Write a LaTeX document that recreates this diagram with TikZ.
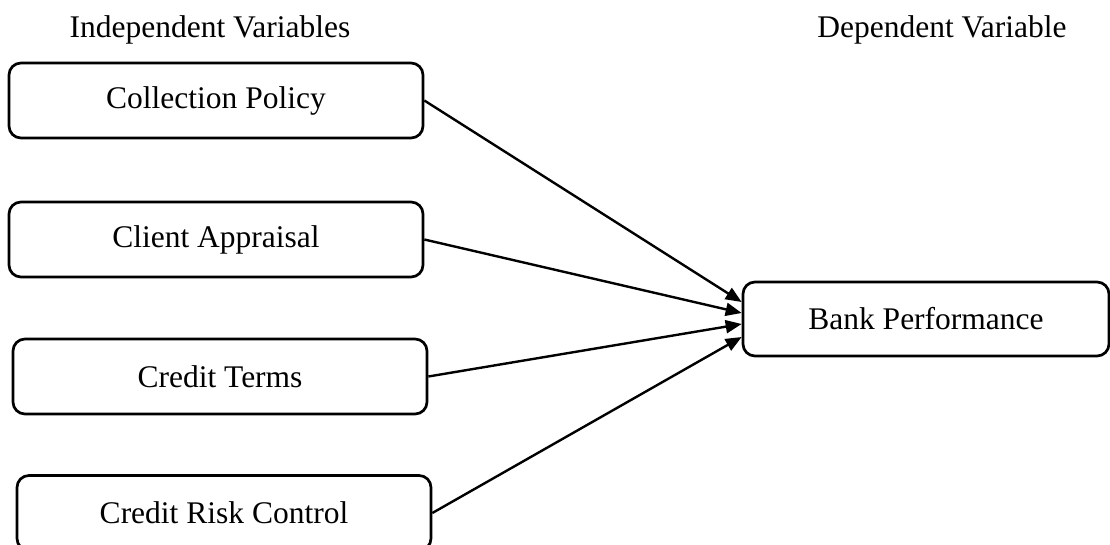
\documentclass[tikz,border=0pt]{standalone}
\usepackage{fontspec}
\setmainfont{Liberation Serif}
\usetikzlibrary{arrows.meta,calc}
\begin{document}
\begin{tikzpicture}[x=1pt,y=-1pt,
  var/.style={draw=black,line width=2.7pt,rounded corners=12pt,minimum width=414pt,minimum height=75pt,inner sep=0pt,font=\fontsize{31.5}{38}\selectfont},
  dep/.style={var,minimum width=366pt,minimum height=74pt},
  ttl/.style={anchor=base,inner sep=0pt,font=\fontsize{31.5}{38}\selectfont},
  conn/.style={line width=2.4pt,-{Triangle[length=16pt,width=13pt]}}]
\useasboundingbox (0,0) rectangle (1110,544);
\node[ttl] (t1) at (210,37) {Independent Variables};
\node[ttl] (t2) at (942,37) {Dependent Variable};
\node[var] (cp) at (216,100.5) {Collection Policy};
\node[var] (ca) at (216,239.5) {Client Appraisal};
\node[var] (ct) at (220,376.5) {Credit Terms};
\node[var] (crc) at (224,513) {Credit Risk Control};
\node[dep] (bp) at (926,319) {Bank Performance};
\coordinate (e1) at ($(bp.west)+(0,-17)$);
\coordinate (e2) at ($(bp.west)+(0,-6)$);
\coordinate (e3) at ($(bp.west)+(0,5)$);
\coordinate (e4) at ($(bp.west)+(0,18)$);
\draw[conn] (cp.east) -- (e1);
\draw[conn] (ca.east) -- (e2);
\draw[conn] (ct.east) -- (e3);
\draw[conn] (crc.east) -- (e4);
\end{tikzpicture}
\end{document}
